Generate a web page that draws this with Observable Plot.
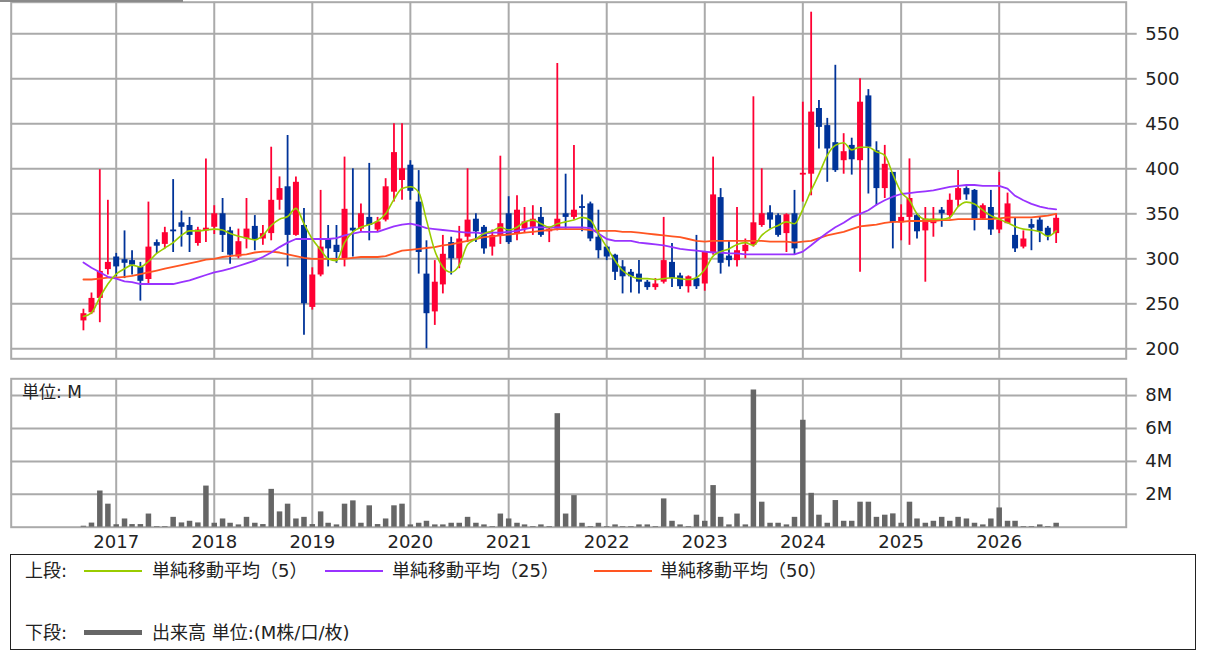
<!DOCTYPE html>
<html><head><meta charset="utf-8">
<script src="https://cdn.jsdelivr.net/npm/d3@7"></script>
<script src="https://cdn.jsdelivr.net/npm/@observablehq/plot@0.6"></script>
<style>
html,body{margin:0;padding:0;background:#fff;}
body{width:1206px;height:652px;overflow:hidden;position:relative;font-family:"DejaVu Sans","Noto Sans CJK JP",sans-serif;color:#222;}
#price{position:absolute;left:0;top:0;}
#vol{position:absolute;left:0;top:370px;}
.abs{position:absolute;white-space:nowrap;}
#topbar{left:0;top:0;width:183px;height:2px;background:#8a8a8a;}
#unit{left:22px;top:382px;font-size:17px;line-height:20px;}
#legend{left:10px;top:554px;width:1184px;height:94px;border:1.6px solid #222;}
.lt{font-size:18px;line-height:22px;}
.sw{height:2px;}
</style></head><body>
<div id="price"></div>
<div id="vol"></div>
<div class="abs" id="topbar"></div>
<div class="abs" id="unit">単位: M</div>
<div class="abs" id="legend"></div>
<div class="abs lt" style="left:25px;top:560px;">上段:</div>
<div class="abs sw" style="left:84px;top:570px;width:58px;background:#99cc00;"></div>
<div class="abs lt" style="left:152px;top:560px;">単純移動平均（5）</div>
<div class="abs sw" style="left:325px;top:570px;width:58px;background:#9933ff;"></div>
<div class="abs lt" style="left:392px;top:560px;">単純移動平均（25）</div>
<div class="abs sw" style="left:594px;top:570px;width:58px;background:#ff5522;"></div>
<div class="abs lt" style="left:660px;top:560px;">単純移動平均（50）</div>
<div class="abs lt" style="left:25px;top:622px;">下段:</div>
<div class="abs" style="left:84px;top:630px;width:58px;height:5px;background:#666;"></div>
<div class="abs lt" style="left:152px;top:622px;">出来高 単位:(M株/口/枚)</div>
<script>
// ---- data (monthly, 2016-09 .. 2026-08) ----
const firstMonth = "2016-09-01";
const open = [
 231,240,256,288,
 302,299,298,291,277,318,316,332,340,337,317,331,
 335,350,331,302,322,336,322,328,365,380,326,337,
 246,282,322,315,300,334,333,346,332,343,374,387,
 404,363,283,241,271,318,300,324,344,335,313,326,
 350,328,333,335,346,330,333,350,346,358,361,324,
 313,304,291,285,283,274,268,274,296,281,269,278,
 272,306,368,303,298,308,315,337,351,348,328,350,
 393,394,467,448,429,409,426,409,481,420,378,396,
 340,346,348,331,339,354,348,365,378,376,344,357,
 332,339,326,313,338,343,334,328];
const high = [
 244,262,399,365,
 306,331,309,296,363,321,335,388,353,346,335,411,
 359,367,335,333,367,348,337,424,391,437,391,356,
 290,376,337,337,413,400,361,406,346,389,450,450,
 409,398,320,298,326,324,336,400,350,337,332,414,
 369,370,357,359,357,335,517,394,426,371,363,354,
 314,305,298,288,298,276,278,346,317,284,281,326,
 308,413,378,320,357,322,480,400,359,350,350,376,
 474,574,476,456,515,439,434,500,488,430,426,396,
 360,411,350,357,357,357,372,398,380,377,361,376,
 396,373,346,331,344,346,336,350];
const low = [
 220,238,229,282,
 280,278,282,253,272,306,311,307,313,307,314,318,
 327,307,294,300,311,309,315,320,354,291,325,215,
 243,280,291,295,291,302,330,320,330,341,363,365,
 365,283,200,226,261,282,289,318,318,305,303,316,
 316,320,328,326,324,318,331,333,343,330,319,300,
 298,276,261,262,261,265,265,272,268,266,262,266,
 264,304,283,291,291,300,313,335,333,324,307,304,
 363,370,422,385,396,394,393,285,372,359,367,311,
 320,315,322,274,324,335,344,357,365,331,343,326,
 328,339,307,311,309,318,320,317];
const close = [
 239,256,286,296,
 291,295,293,275,313,314,329,330,335,326,332,334,
 350,326,304,319,333,321,328,365,378,326,385,250,
 282,313,311,307,355,331,350,337,341,380,418,400,
 375,307,239,274,305,300,322,343,330,311,326,339,
 318,354,341,344,326,333,344,346,354,356,322,309,
 302,285,280,280,274,268,272,298,278,269,280,269,
 307,371,295,298,309,315,340,350,343,326,349,311,
 395,463,446,422,398,419,410,474,424,378,405,340,
 346,367,330,344,344,350,365,378,371,344,359,332,
 343,361,311,322,334,330,325,345];
const volume = [
 0.06,0.25,2.2,1.4,
 0.15,0.5,0.16,0.16,0.8,0.04,0.04,0.6,0.26,0.36,0.26,2.5,
 0.24,0.5,0.24,0.14,0.6,0.24,0.16,2.3,0.93,1.4,0.5,0.6,
 0.16,0.93,0.24,0.14,1.4,1.6,0.24,1.3,0.16,0.5,1.3,1.4,
 0.14,0.24,0.36,0.14,0.14,0.24,0.24,0.6,0.24,0.14,0.04,0.8,
 0.5,0.24,0.14,0.04,0.14,0.04,6.9,0.8,1.92,0.24,0.04,0.24,
 0.04,0.14,0.04,0.04,0.14,0.14,0.04,1.72,0.36,0.14,0.04,0.73,
 0.36,2.53,0.6,0.14,0.8,0.14,8.34,1.52,0.24,0.24,0.14,0.6,
 6.5,2.06,0.73,0.24,1.62,0.36,0.36,1.52,1.52,0.6,0.73,0.81,
 0.24,1.52,0.5,0.24,0.36,0.6,0.36,0.6,0.5,0.24,0.14,0.5,
 1.17,0.36,0.36,0.04,0.04,0.14,0.04,0.24];
const sma5 = [
 236,240,257,272,
 283,289,293,291,297,306,312,318,326,331,331,332,
 333,332,328,325,323,321,326,337,344,347,356,339,
 322,310,300,298,318,330,335,338,342,350,366,378,
 380,374,343,309,291,285,293,316,322,328,331,335,
 332,335,341,343,339,335,339,341,343,346,343,328,
 313,298,287,281,278,278,277,278,279,278,277,279,
 288,303,308,311,316,318,315,326,333,337,341,339,
 355,376,394,415,426,429,421,424,424,419,415,394,
 374,365,350,344,344,344,346,358,363,361,354,348,
 344,340,336,333,332,330,325,331];
const sma25 = [
 296,290,285,280,
 278,275,274,272,272,272,272,272,274,276,279,282,
 285,287,289,292,295,298,302,307,313,318,322,322,
 322,322,322,323,326,328,330,330,330,333,336,338,
 339,337,334,333,332,331,330,329,329,328,329,329,
 330,331,333,335,335,335,335,335,335,335,334,328,
 322,320,320,320,318,317,316,315,313,311,310,309,
 308,307,307,306,306,305,305,305,305,305,305,305,
 308,315,322,329,335,340,346,350,354,360,365,369,
 372,373,374,375,376,378,380,381,382,382,381,381,
 381,378,370,365,361,358,356,355];
const sma50 = [
 277,277,278,279,
 279,280,281,283,285,287,289,291,293,295,297,299,
 300,302,303,304,305,307,308,308,307,305,303,301,
 300,300,300,300,300,301,302,302,302,303,306,309,
 310,311,312,313,315,316,318,320,322,324,325,326,
 327,328,329,330,331,332,333,333,333,333,332,331,
 331,331,330,330,329,328,327,326,325,324,322,320,
 319,320,320,320,320,320,320,320,319,319,319,318,
 319,320,323,326,328,330,333,336,337,338,340,341,
 341,342,342,342,342,343,343,344,344,344,344,344,
 345,346,346,346,346,347,348,350];
const priceTicks = [200,250,300,350,400,450,500,550];
const volTicks = [2,4,6,8];
const yearLabels = ["2017","2018","2019","2020","2021","2022","2023","2024","2025","2026"];

// ---- build tables ----
const start = new Date(firstMonth + "T00:00:00Z");
const months = d3.utcMonth.range(start, d3.utcMonth.offset(start, open.length));
const candles = months.map((date, i) => ({date, open: open[i], high: high[i], low: low[i], close: close[i]}));
const vols = months.map((date, i) => ({date, v: volume[i]}));
const lines = [
  {name: "SMA50", values: sma50, color: "#ff5522"},
  {name: "SMA25", values: sma25, color: "#9933ff"},
  {name: "SMA5", values: sma5, color: "#99cc00"}
];
const years = yearLabels.map(y => new Date(Date.UTC(+y, 0, 1)));

// x scale: same for both panels
const W = 1206, mL = 10.7, mR = 80.3;
const day = 864e5;
const pxPerDay = (998.7 - 115.7) / ((years[9] - years[0]) / day);
const x0 = new Date(+years[0] - (115.7 - mL) / pxPerDay * day);
const x1 = new Date(+years[9] + ((W - mR) - 998.7) / pxPerDay * day);
const xs = {type: "utc", domain: [x0, x1], axis: null, label: null};

const UP = "#ff0033", DOWN = "#003399", GRID = "#aaaaaa", TXT = "#222";
const gridOpts = {stroke: GRID, strokeOpacity: 1, strokeWidth: 2};

const price = Plot.plot({
  width: W, height: 370,
  marginTop: 1.7, marginBottom: 11.7, marginLeft: mL, marginRight: mR,
  x: xs,
  y: {domain: [188.9, 585.1], axis: null, label: null},
  style: {background: "transparent", fontFamily: "DejaVu Sans", fontSize: "18px", color: TXT},
  marks: [
    Plot.gridY(priceTicks, gridOpts),
    Plot.gridX(years, gridOpts),
    Plot.frame({stroke: GRID, strokeWidth: 2}),
    Plot.axisY(priceTicks, {anchor: "right", tickSize: 10, tickPadding: 9, fontSize: 18,
      stroke: GRID, strokeWidth: 2, fill: TXT, label: null, tickFormat: d => String(d)}),
    Plot.ruleX(candles, {x: "date", y1: "low", y2: "high",
      stroke: d => d.close >= d.open ? UP : DOWN, strokeWidth: 1.8}),
    Plot.ruleX(candles, {x: "date", y1: "open", y2: "close",
      stroke: d => d.close >= d.open ? UP : DOWN, strokeWidth: 6}),
    ...lines.map(l => Plot.line(months.map((date, i) => ({date, v: l.values[i]})),
      {x: "date", y: "v", stroke: l.color, strokeWidth: l.name === "SMA5" ? 1.6 : 1.8,
       curve: l.name === "SMA5" ? "monotone-x" : "linear"}))
  ]
});
document.getElementById("price").append(price);

const vol = Plot.plot({
  width: W, height: 184,
  marginTop: 8.3, marginBottom: 27.3, marginLeft: mL, marginRight: mR,
  x: xs,
  y: {domain: [0, 9.02], axis: null, label: null},
  style: {background: "transparent", fontFamily: "DejaVu Sans", fontSize: "18px", color: TXT},
  marks: [
    Plot.gridY(volTicks, gridOpts),
    Plot.gridX(years, gridOpts),
    Plot.frame({stroke: GRID, strokeWidth: 2}),
    Plot.axisY(volTicks, {anchor: "right", tickSize: 10, tickPadding: 9, fontSize: 18,
      stroke: GRID, strokeWidth: 2, fill: TXT, label: null, tickFormat: d => d + "M"}),
    Plot.axisX(years, {anchor: "bottom", tickSize: 0, tickPadding: 8, fontSize: 18,
      fill: TXT, label: null, tickFormat: d => yearLabels[years.findIndex(y => +y === +d)]}),
    Plot.ruleX(vols, {x: "date", y1: 0, y2: "v", stroke: "#666666", strokeWidth: 5.5})
  ]
});
document.getElementById("vol").append(vol);
</script>
</body></html>
